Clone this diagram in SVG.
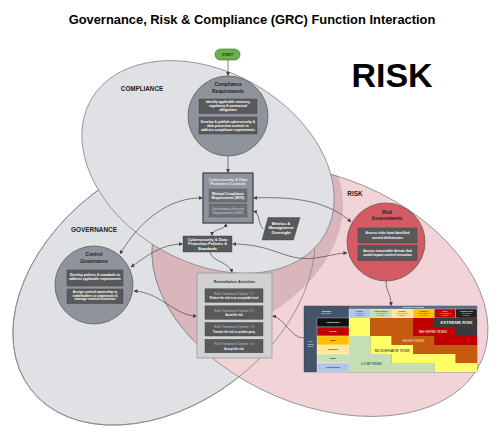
<svg xmlns="http://www.w3.org/2000/svg" width="500" height="437" viewBox="0 0 500 437">
<defs>
<style>
text{font-family:"Liberation Sans",Arial,sans-serif}
.ell{stroke:#8a8a8a;stroke-width:0.8}
.node{fill:#8f939b;stroke:#5a5a5a;stroke-width:0.8}
.dark{fill:#58595b;stroke:#3c3c3c;stroke-width:0.4}
.bt{fill:#fff;font-weight:bold;font-size:3.3px;text-anchor:middle}
.ttl{fill:#1e1e1e;font-weight:bold;font-size:4.8px;text-anchor:middle}
.lbl{fill:#222;font-weight:bold;text-anchor:middle}
.c{fill:none;stroke:#4a4a4a;stroke-width:0.7}
.e{marker-end:url(#ah)}
.b{marker-start:url(#ah);marker-end:url(#ah)}
.rt{fill:#c4c4c4;font-size:3.4px;text-anchor:middle}
.rs{fill:#fff;font-weight:bold;font-size:2.7px;text-anchor:middle}
.hm{font-size:1.9px;text-anchor:middle}
.hs{font-size:1.4px;text-anchor:middle}
.rl{font-size:2.2px;text-anchor:middle;font-weight:bold}
</style>
<marker id="ah" viewBox="0 0 10 10" refX="9" refY="5" markerWidth="4" markerHeight="4" markerUnits="userSpaceOnUse" orient="auto-start-reverse"><path d="M0,0 L10,5 L0,10 z" fill="#444"/></marker>
<clipPath id="govClip"><ellipse cx="164" cy="287" rx="168" ry="117" transform="rotate(-37.5 164 287)"/></clipPath>
</defs>
<rect width="500" height="437" fill="#fff"/>

<g id="areas">
<ellipse id="governance-area" class="ell" cx="164" cy="287" rx="168" ry="117" transform="rotate(-37.5 164 287)" fill="#dfe1e5"/>
<ellipse id="risk-area" class="ell" cx="320" cy="291" rx="176" ry="114" transform="rotate(23 320 291)" fill="#f2d4d8"/>
<ellipse cx="320" cy="291" rx="176" ry="114" transform="rotate(23 320 291)" fill="#d9b6bc" clip-path="url(#govClip)"/>
<ellipse cx="320" cy="291" rx="176" ry="114" transform="rotate(23 320 291)" fill="none" stroke="#8a8a8a" stroke-width="0.8" clip-path="url(#govClip)"/>
<ellipse cx="164" cy="287" rx="168" ry="117" transform="rotate(-37.5 164 287)" fill="none" stroke="#8a8a8a" stroke-width="0.8"/>
<ellipse id="compliance-area" class="ell" cx="208" cy="167" rx="135" ry="95" transform="rotate(30 208 167)" fill="#dfe1e5"/>
</g>

<text x="252" y="23.8" font-size="12.9" font-weight="bold" text-anchor="middle" fill="#000">Governance, Risk &amp; Compliance (GRC) Function Interaction</text>
<text x="392" y="87" font-size="34" font-weight="bold" text-anchor="middle" fill="#000">RISK</text>
<text class="lbl" x="142" y="91.2" font-size="6.3">COMPLIANCE</text>
<text class="lbl" x="94" y="232.3" font-size="6.4">GOVERNANCE</text>
<text class="lbl" x="355" y="196.2" font-size="6.4">RISK</text>

<g id="connectors">
<path class="c e" d="M228,60 L228,75.5"/>
<path class="c e" d="M228,156 L228,172.5"/>
<path class="c b" d="M120,254 C140,220 170,197 202.5,198"/>
<path class="c b" d="M253.5,198 C300,196 330,203 351,222"/>
<path class="c b" d="M131,267 C148,255 162,244 182.5,244"/>
<path class="c b" d="M232.5,244 C275,244 285,262 315,258 C330,256 338,253 347,253"/>
<path class="c e" d="M210,252 C212,262 230,262 232,272.5"/>
<path class="c b" d="M134,291 C160,292 175,316 196.5,316"/>
<path class="c b" d="M212,235.5 C212,228 225,231 226,223.5"/>
<path class="c e" d="M263,229 C258,224 260,213 253.5,211"/>
<path class="c e" d="M386,281 C386,292 391,293 391,305.5"/>
<path class="c e" d="M304,338 C290,338 285,318 272.5,316"/>
</g>

<g id="start">
<rect x="215" y="49" width="25" height="11" rx="5.5" fill="#6ab04c" stroke="#3d6b2a" stroke-width="0.6"/>
<text x="227.5" y="55.8" font-size="3.4" font-weight="bold" text-anchor="middle" fill="#1e3a12">START</text>
</g>

<g id="compliance-requirements">
<circle class="node" cx="228" cy="116" r="40"/>
<text class="ttl" x="228" y="86">Compliance</text>
<text class="ttl" x="228" y="92.5">Requirements</text>
<rect class="dark" x="199" y="99" width="58" height="14.5"/>
<text class="bt" x="228" y="103.2">Identify applicable statutory,</text>
<text class="bt" x="228" y="107.1">regulatory &amp; contractual</text>
<text class="bt" x="228" y="111">obligations</text>
<rect class="dark" x="199" y="117" width="58" height="17"/>
<text class="bt" x="228" y="122.8">Develop &amp; publish cybersecurity &amp;</text>
<text class="bt" x="228" y="126.7">data protection controls to</text>
<text class="bt" x="228" y="130.6">address compliance requirements</text>
</g>

<g id="controls">
<rect x="203" y="173" width="50" height="50" fill="#8f939b" stroke="#3c3c3c" stroke-width="1.2"/>
<text x="228" y="180.6" font-size="3.8" font-weight="bold" text-anchor="middle" fill="#ececec">Cybersecurity &amp; Data</text>
<text x="228" y="185.4" font-size="3.8" font-weight="bold" text-anchor="middle" fill="#ececec">Protection Controls</text>
<rect x="209" y="189" width="38" height="13" fill="#6b6e75" stroke="#555" stroke-width="0.3"/>
<text class="bt" x="228" y="194.6">Minimal Compliance</text>
<text class="bt" x="228" y="198.6">Requirements (MCR)</text>
<rect x="209" y="204" width="38" height="13" fill="#6b6e75" stroke="#555" stroke-width="0.3"/>
<text x="228" y="209.6" font-size="3.3" text-anchor="middle" fill="#d4d4d4">Discretionary Security</text>
<text x="228" y="213.6" font-size="3.3" text-anchor="middle" fill="#d4d4d4">Requirements (DSR)</text>
</g>

<g id="policies">
<rect class="dark" x="183" y="236" width="49" height="16"/>
<text x="207.5" y="240.6" font-size="3.9" font-weight="bold" text-anchor="middle" fill="#fff">Cybersecurity &amp; Data</text>
<text x="207.5" y="245.3" font-size="3.9" font-weight="bold" text-anchor="middle" fill="#fff">Protection Policies &amp;</text>
<text x="207.5" y="250" font-size="3.9" font-weight="bold" text-anchor="middle" fill="#fff">Standards</text>
</g>

<g id="metrics">
<polygon points="268,217.5 300,217.5 293.5,240 262,240" fill="#58595b" stroke="#3c3c3c" stroke-width="0.4"/>
<text x="281" y="224.7" font-size="4.1" font-weight="bold" text-anchor="middle" fill="#fff">Metrics &amp;</text>
<text x="281" y="229.2" font-size="4.1" font-weight="bold" text-anchor="middle" fill="#fff">Management</text>
<text x="281" y="233.7" font-size="4.1" font-weight="bold" text-anchor="middle" fill="#fff">Oversight</text>
</g>

<g id="control-governance">
<circle class="node" cx="94" cy="285" r="39"/>
<text class="ttl" x="94" y="255.8" font-size="4.7">Control</text>
<text class="ttl" x="94" y="262.6">Governance</text>
<rect class="dark" x="67" y="270" width="56" height="16"/>
<text class="bt" x="95" y="276.2">Develop policies &amp; standards to</text>
<text class="bt" x="95" y="280.4">address applicable requirements</text>
<rect class="dark" x="67" y="289" width="56" height="14.5"/>
<text class="bt" x="95" y="292.6">Assign control ownership to</text>
<text class="bt" x="95" y="296.5">stakeholders to implement &amp;</text>
<text class="bt" x="95" y="300.4">manage control execution</text>
</g>

<g id="risk-assessments">
<circle cx="386" cy="242" r="39" fill="#d45b63" stroke="#5a5a5a" stroke-width="0.8"/>
<text class="ttl" x="387" y="214">Risk</text>
<text class="ttl" x="387" y="220.3">Assessments</text>
<rect class="dark" x="358" y="228" width="59" height="15"/>
<text class="bt" x="387.5" y="234.2">Assess risks from identified</text>
<text class="bt" x="387.5" y="238.6">control deficiencies</text>
<rect class="dark" x="358" y="245.5" width="59" height="15"/>
<text class="bt" x="387.5" y="251.9">Assess reasonable threats that</text>
<text class="bt" x="387.5" y="256.3">could impact control execution</text>
</g>

<g id="remediation">
<rect x="197" y="273" width="75" height="85" fill="#d1d1d1" stroke="#9a9a9a" stroke-width="0.8"/>
<text x="234.5" y="283.3" font-size="3.9" font-weight="bold" text-anchor="middle" fill="#333">Remediation Activities</text>
<rect class="dark" x="205" y="288.8" width="58" height="13.5"/>
<text class="rt" x="234" y="294.5">Risk Treatment Option # 1</text>
<text class="rs" x="234" y="299">Reduce the risk to an acceptable level</text>
<rect class="dark" x="205" y="305.8" width="58" height="13.5"/>
<text class="rt" x="234" y="311.5">Risk Treatment Option # 2</text>
<text class="rs" x="234" y="316">Avoid the risk</text>
<rect class="dark" x="205" y="322.5" width="58" height="13.5"/>
<text class="rt" x="234" y="328.2">Risk Treatment Option # 3</text>
<text class="rs" x="234" y="332.7">Transfer the risk to another party</text>
<rect class="dark" x="205" y="339.3" width="58" height="13.5"/>
<text class="rt" x="234" y="345">Risk Treatment Option # 4</text>
<text class="rs" x="234" y="349.5">Accept the risk</text>
</g>

<g id="heat-map">
<rect x="304" y="306" width="173" height="66" fill="#44546a" stroke="#2f3b4c" stroke-width="0.4"/>
<rect x="349" y="306" width="128" height="3" fill="#5b6b82"/>
<text x="413" y="308.3" font-size="2" fill="#fff" text-anchor="middle" font-weight="bold">Occurrence Likelihood</text>
<text x="326.5" y="311.5" font-size="1.9" fill="#fff" text-anchor="middle" font-weight="bold">6x6 Matrix</text>
<text x="326.5" y="314" font-size="1.9" fill="#fff" text-anchor="middle">Risk Matrix</text>
<g stroke="#fff" stroke-width="0.3">
<rect x="349" y="309" width="21.33" height="9" fill="#b4c6e7"/>
<rect x="370.33" y="309" width="21.33" height="9" fill="#c6e0b4"/>
<rect x="391.67" y="309" width="21.33" height="9" fill="#ffe699"/>
<rect x="413" y="309" width="21.33" height="9" fill="#ffc000"/>
<rect x="434.33" y="309" width="21.33" height="9" fill="#c00000"/>
<rect x="455.67" y="309" width="21.33" height="9" fill="#1f1f1f"/>
</g>
<g fill="#333">
<text class="hm" x="359.7" y="311.6" font-weight="bold">Remote</text>
<text class="hs" x="359.7" y="313.8">(&lt;1% chance of</text>
<text class="hs" x="359.7" y="315.6">occurrence)</text>
<text class="hm" x="381" y="311.6" font-weight="bold">Highly Unlikely</text>
<text class="hs" x="381" y="313.8">(1-10% chance of</text>
<text class="hs" x="381" y="315.6">occurrence)</text>
<text class="hm" x="402.3" y="311.6" font-weight="bold">Unlikely</text>
<text class="hs" x="402.3" y="313.8">(11-30% chance of</text>
<text class="hs" x="402.3" y="315.6">occurrence)</text>
<text class="hm" x="423.7" y="311.6" font-weight="bold">Possible</text>
<text class="hs" x="423.7" y="313.8">(31-60% chance of</text>
<text class="hs" x="423.7" y="315.6">occurrence)</text>
</g>
<g fill="#f0f0f0">
<text class="hm" x="445" y="311.6" font-weight="bold">Likely</text>
<text class="hs" x="445" y="313.8">(61-90% chance of</text>
<text class="hs" x="445" y="315.6">occurrence)</text>
<text class="hm" x="466.3" y="311.6" font-weight="bold">Almost Certain</text>
<text class="hs" x="466.3" y="313.8">(&gt;90% chance of</text>
<text class="hs" x="466.3" y="315.6">occurrence)</text>
</g>
<g stroke="#fff" stroke-width="0.3">
<rect x="317" y="318" width="32" height="9" fill="#111"/>
<rect x="317" y="327" width="32" height="9" fill="#c00000"/>
<rect x="317" y="336" width="32" height="9" fill="#ffc000"/>
<rect x="317" y="345" width="32" height="9" fill="#ffe699"/>
<rect x="317" y="354" width="32" height="9" fill="#c6e0b4"/>
<rect x="317" y="363" width="32" height="9" fill="#b4c6e7"/>
</g>
<text class="rl" x="333" y="323.3" fill="#fff">Catastrophic</text>
<text class="rl" x="333" y="332.3" fill="#fff">Critical</text>
<text class="rl" x="333" y="341.3" fill="#222">Major</text>
<text class="rl" x="333" y="350.3" fill="#222">Moderate</text>
<text class="rl" x="333" y="359.3" fill="#222">Minor</text>
<text class="rl" x="333" y="368.3" fill="#222">Insignificant</text>
<text x="310.5" y="342" font-size="2" fill="#fff" text-anchor="middle">Risk</text>
<text x="310.5" y="344.6" font-size="2" fill="#fff" text-anchor="middle">Impact</text>
<text x="310.5" y="347.2" font-size="2" fill="#fff" text-anchor="middle">Effect</text>
<g>
<rect x="349" y="318" width="21.33" height="9" fill="#ffff66"/>
<rect x="370.33" y="318" width="42.67" height="9" fill="#c55a11"/>
<rect x="413" y="318" width="21.33" height="9" fill="#c00000"/>
<rect x="434.33" y="318" width="42.67" height="9" fill="#3a3a3a"/>
<rect x="349" y="327" width="21.33" height="9" fill="#ffff66"/>
<rect x="370.33" y="327" width="42.67" height="9" fill="#c55a11"/>
<rect x="413" y="327" width="42.67" height="9" fill="#c00000"/>
<rect x="455.67" y="327" width="21.33" height="9" fill="#3a3a3a"/>
<rect x="349" y="336" width="21.33" height="9" fill="#c5dfb4"/>
<rect x="370.33" y="336" width="21.33" height="9" fill="#ffff66"/>
<rect x="391.67" y="336" width="42.67" height="9" fill="#c55a11"/>
<rect x="434.33" y="336" width="42.67" height="9" fill="#c00000"/>
<rect x="349" y="345" width="21.33" height="9" fill="#c5dfb4"/>
<rect x="370.33" y="345" width="42.67" height="9" fill="#ffff66"/>
<rect x="413" y="345" width="64" height="9" fill="#c55a11"/>
<rect x="349" y="354" width="42.67" height="9" fill="#c5dfb4"/>
<rect x="391.67" y="354" width="64" height="9" fill="#ffff66"/>
<rect x="455.67" y="354" width="21.33" height="9" fill="#c55a11"/>
<rect x="349" y="363" width="85.33" height="9" fill="#c5dfb4"/>
<rect x="434.33" y="363" width="42.67" height="9" fill="#ffff66"/>
</g>
<text x="456.5" y="324.4" font-size="4.3" fill="#e6e6e6" text-anchor="middle" font-weight="bold">EXTREME RISK</text>
<text x="433" y="333.4" font-size="4.3" fill="#fff" text-anchor="middle">SEVERE RISK</text>
<text x="413.5" y="342.4" font-size="4.3" fill="#f3e0d0" text-anchor="middle">HIGH RISK</text>
<text x="392.5" y="351.6" font-size="4.3" fill="#222" text-anchor="middle">MODERATE RISK</text>
<text x="371.5" y="364.8" font-size="4.3" fill="#222" text-anchor="middle">LOW RISK</text>
</g>
</svg>
